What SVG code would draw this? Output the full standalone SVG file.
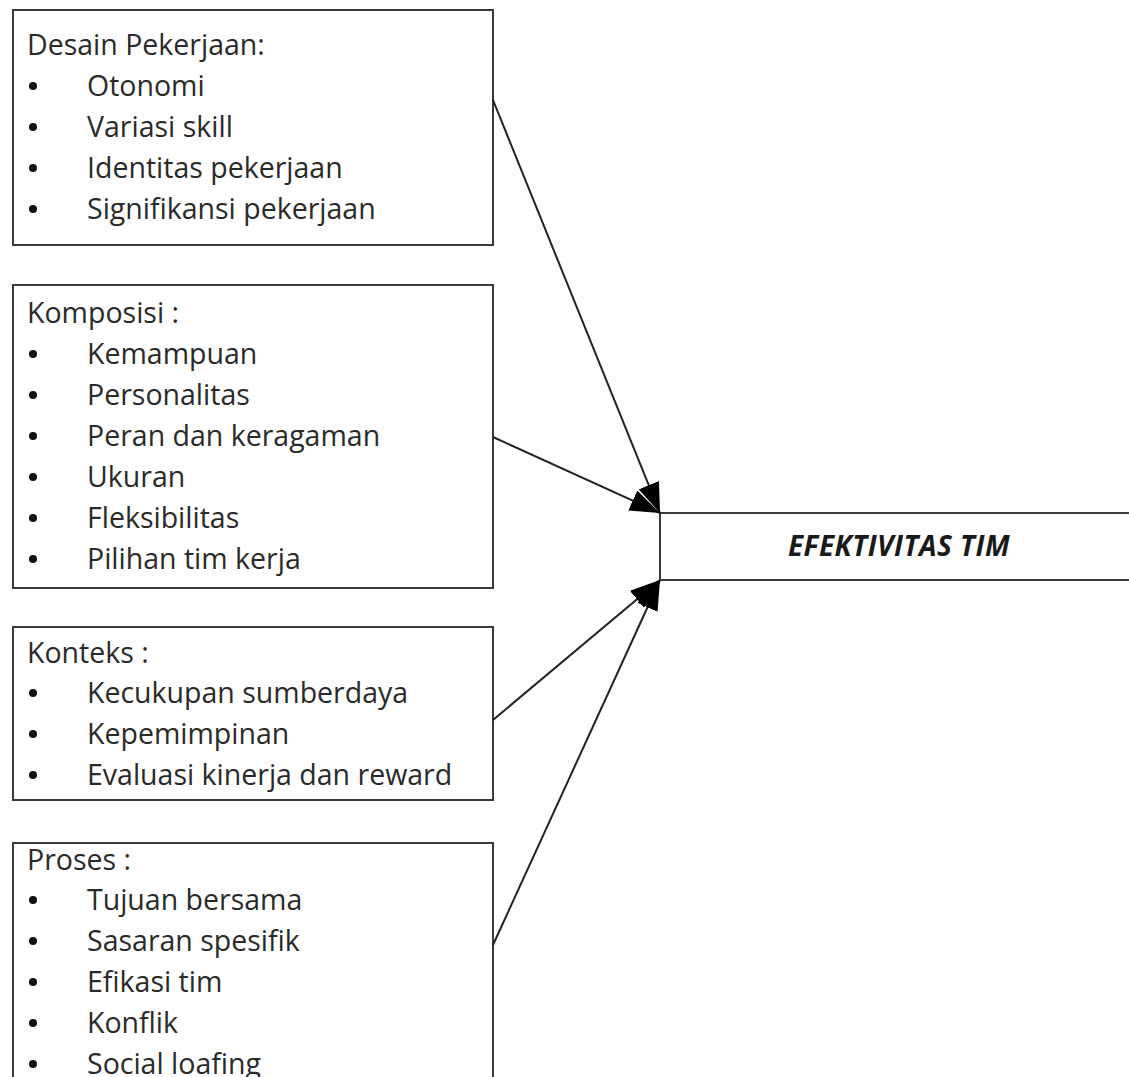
<svg xmlns="http://www.w3.org/2000/svg" width="1129" height="1077" viewBox="0 0 1129 1077">
<defs>
<style>
.box{fill:#fff;stroke:#3a3a3a;stroke-width:2}
.t{font-family:"Open Sans","Liberation Sans",sans-serif;font-size:28.5px;fill:#2a2a2a}
.b{fill:#111}
.c{stroke:#222;stroke-width:2;fill:none;marker-end:url(#ah)}
.m{font-family:"Open Sans","Liberation Sans",sans-serif;font-size:28px;font-weight:bold;font-style:italic;fill:#1a1a1a;letter-spacing:0.5px}
</style>
<marker id="ah" markerWidth="30" markerHeight="22" refX="30" refY="11" orient="auto" markerUnits="userSpaceOnUse" viewBox="0 0 30 22">
<path d="M0,0 L30,11 L0,22 z" fill="#000"/>
</marker>
</defs>
<rect width="1129" height="1077" fill="#fff"/>
<g id="desain">
<rect class="box" x="13" y="10" width="480" height="235"/>
<text class="t" x="27" y="55">Desain Pekerjaan:</text>
<circle class="b" cx="33" cy="86" r="4"/><text class="t" x="87" y="96">Otonomi</text>
<circle class="b" cx="33" cy="127" r="4"/><text class="t" x="87" y="137">Variasi skill</text>
<circle class="b" cx="33" cy="168" r="4"/><text class="t" x="87" y="178">Identitas pekerjaan</text>
<circle class="b" cx="33" cy="209" r="4"/><text class="t" x="87" y="219">Signifikansi pekerjaan</text>
</g>
<g id="komposisi">
<rect class="box" x="13" y="285" width="480" height="303"/>
<text class="t" x="27" y="323">Komposisi :</text>
<circle class="b" cx="33" cy="354" r="4"/><text class="t" x="87" y="364">Kemampuan</text>
<circle class="b" cx="33" cy="395" r="4"/><text class="t" x="87" y="405">Personalitas</text>
<circle class="b" cx="33" cy="436" r="4"/><text class="t" x="87" y="446">Peran dan keragaman</text>
<circle class="b" cx="33" cy="477" r="4"/><text class="t" x="87" y="487">Ukuran</text>
<circle class="b" cx="33" cy="518" r="4"/><text class="t" x="87" y="528">Fleksibilitas</text>
<circle class="b" cx="33" cy="559" r="4"/><text class="t" x="87" y="569">Pilihan tim kerja</text>
</g>
<g id="konteks">
<rect class="box" x="13" y="627" width="480" height="173"/>
<text class="t" x="27" y="663">Konteks :</text>
<circle class="b" cx="33" cy="693" r="4"/><text class="t" x="87" y="703">Kecukupan sumberdaya</text>
<circle class="b" cx="33" cy="734" r="4"/><text class="t" x="87" y="744">Kepemimpinan</text>
<circle class="b" cx="33" cy="775" r="4"/><text class="t" x="87" y="785">Evaluasi kinerja dan reward</text>
</g>
<g id="proses">
<rect class="box" x="13" y="843" width="480" height="260"/>
<text class="t" x="27" y="870">Proses :</text>
<circle class="b" cx="33" cy="900" r="4"/><text class="t" x="87" y="910">Tujuan bersama</text>
<circle class="b" cx="33" cy="941" r="4"/><text class="t" x="87" y="951">Sasaran spesifik</text>
<circle class="b" cx="33" cy="982" r="4"/><text class="t" x="87" y="992">Efikasi tim</text>
<circle class="b" cx="33" cy="1023" r="4"/><text class="t" x="87" y="1033">Konflik</text>
<circle class="b" cx="33" cy="1064" r="4"/><text class="t" x="87" y="1074">Social loafing</text>
</g>
<g id="efektivitas">
<rect class="box" x="660" y="513" width="480" height="67"/>
<text class="m" x="899" y="556" text-anchor="middle">EFEKTIVITAS TIM</text>
</g>
<g id="connectors">
<line class="c" x1="493" y1="100" x2="660" y2="513"/>
<line class="c" x1="493" y1="437" x2="660" y2="513"/>
<line class="c" x1="493" y1="720" x2="660" y2="580"/>
<line class="c" x1="493" y1="945" x2="660" y2="580"/>
</g>
</svg>
